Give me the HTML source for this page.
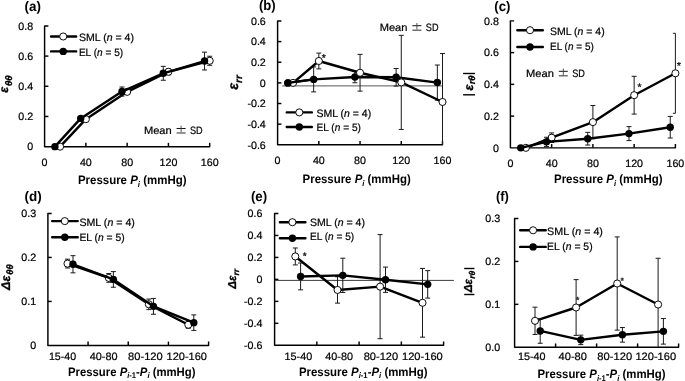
<!DOCTYPE html>
<html><head><meta charset="utf-8"><style>
html,body{margin:0;padding:0;background:#fff;overflow:hidden;}
svg{display:block;font-family:"Liberation Sans", sans-serif;will-change:transform;text-rendering:geometricPrecision;}
</style></head><body>
<svg width="685" height="381" viewBox="0 0 685 381">
<rect width="685" height="381" fill="#fff"/>
<path d="M48.4,25.9 L44.6,25.9 L44.6,146.65 L209.7,146.65 L209.7,142.85" fill="none" stroke="#000" stroke-width="1.45" stroke-linejoin="round"/>
<line x1="44.6" y1="116.46" x2="48.4" y2="116.46" stroke="#000" stroke-width="1.45"/>
<line x1="44.6" y1="86.28" x2="48.4" y2="86.28" stroke="#000" stroke-width="1.45"/>
<line x1="44.6" y1="56.09" x2="48.4" y2="56.09" stroke="#000" stroke-width="1.45"/>
<line x1="85.88" y1="146.65" x2="85.88" y2="142.85" stroke="#000" stroke-width="1.45"/>
<line x1="127.15" y1="146.65" x2="127.15" y2="142.85" stroke="#000" stroke-width="1.45"/>
<line x1="168.43" y1="146.65" x2="168.43" y2="142.85" stroke="#000" stroke-width="1.45"/>
<text x="33.1" y="150.4" font-size="10.7" text-anchor="end" fill="#000" stroke="#000" stroke-width="0.22">0</text>
<text x="33.1" y="120.21" font-size="10.7" text-anchor="end" fill="#000" stroke="#000" stroke-width="0.22">0.2</text>
<text x="33.1" y="90.03" font-size="10.7" text-anchor="end" fill="#000" stroke="#000" stroke-width="0.22">0.4</text>
<text x="33.1" y="59.84" font-size="10.7" text-anchor="end" fill="#000" stroke="#000" stroke-width="0.22">0.6</text>
<text x="33.1" y="29.65" font-size="10.7" text-anchor="end" fill="#000" stroke="#000" stroke-width="0.22">0.8</text>
<text x="44.6" y="166.4" font-size="10.7" text-anchor="middle" fill="#000" stroke="#000" stroke-width="0.22">0</text>
<text x="85.88" y="166.4" font-size="10.7" text-anchor="middle" fill="#000" stroke="#000" stroke-width="0.22">40</text>
<text x="127.15" y="166.4" font-size="10.7" text-anchor="middle" fill="#000" stroke="#000" stroke-width="0.22">80</text>
<text x="168.43" y="166.4" font-size="10.7" text-anchor="middle" fill="#000" stroke="#000" stroke-width="0.22">120</text>
<text x="209.7" y="166.4" font-size="10.7" text-anchor="middle" fill="#000" stroke="#000" stroke-width="0.22">160</text>
<polyline points="60.08,146.65 85.88,119.18 127.15,91.86 168.43,71.79 209.7,60.77" fill="none" stroke="#000" stroke-width="2.4" stroke-linejoin="round"/>
<line x1="85.88" y1="117.97" x2="85.88" y2="120.39" stroke="#1a1a1a" stroke-width="1.0"/>
<line x1="83.38" y1="117.97" x2="88.38" y2="117.97" stroke="#1a1a1a" stroke-width="1.0"/>
<line x1="83.38" y1="120.39" x2="88.38" y2="120.39" stroke="#1a1a1a" stroke-width="1.0"/>
<line x1="127.15" y1="89.6" x2="127.15" y2="94.12" stroke="#1a1a1a" stroke-width="1.0"/>
<line x1="124.65" y1="89.6" x2="129.65" y2="89.6" stroke="#1a1a1a" stroke-width="1.0"/>
<line x1="124.65" y1="94.12" x2="129.65" y2="94.12" stroke="#1a1a1a" stroke-width="1.0"/>
<line x1="168.43" y1="68.77" x2="168.43" y2="74.8" stroke="#1a1a1a" stroke-width="1.0"/>
<line x1="165.93" y1="68.77" x2="170.93" y2="68.77" stroke="#1a1a1a" stroke-width="1.0"/>
<line x1="165.93" y1="74.8" x2="170.93" y2="74.8" stroke="#1a1a1a" stroke-width="1.0"/>
<line x1="209.7" y1="56.24" x2="209.7" y2="65.29" stroke="#1a1a1a" stroke-width="1.0"/>
<line x1="207.2" y1="56.24" x2="212.2" y2="56.24" stroke="#1a1a1a" stroke-width="1.0"/>
<line x1="207.2" y1="65.29" x2="212.2" y2="65.29" stroke="#1a1a1a" stroke-width="1.0"/>
<circle cx="60.08" cy="146.65" r="3.55" fill="#fff" stroke="#000" stroke-width="0.95"/>
<circle cx="85.88" cy="119.18" r="3.55" fill="#fff" stroke="#000" stroke-width="0.95"/>
<circle cx="127.15" cy="91.86" r="3.55" fill="#fff" stroke="#000" stroke-width="0.95"/>
<circle cx="168.43" cy="71.79" r="3.55" fill="#fff" stroke="#000" stroke-width="0.95"/>
<circle cx="209.7" cy="60.77" r="3.55" fill="#fff" stroke="#000" stroke-width="0.95"/>
<polyline points="54.92,146.65 80.72,118.42 121.99,91.56 163.27,73.29 204.54,61.07" fill="none" stroke="#000" stroke-width="2.4" stroke-linejoin="round"/>
<line x1="80.72" y1="117.22" x2="80.72" y2="119.63" stroke="#1a1a1a" stroke-width="1.0"/>
<line x1="78.22" y1="117.22" x2="83.22" y2="117.22" stroke="#1a1a1a" stroke-width="1.0"/>
<line x1="78.22" y1="119.63" x2="83.22" y2="119.63" stroke="#1a1a1a" stroke-width="1.0"/>
<line x1="121.99" y1="87.03" x2="121.99" y2="96.09" stroke="#1a1a1a" stroke-width="1.0"/>
<line x1="119.49" y1="87.03" x2="124.49" y2="87.03" stroke="#1a1a1a" stroke-width="1.0"/>
<line x1="119.49" y1="96.09" x2="124.49" y2="96.09" stroke="#1a1a1a" stroke-width="1.0"/>
<line x1="163.27" y1="66.35" x2="163.27" y2="80.24" stroke="#1a1a1a" stroke-width="1.0"/>
<line x1="160.77" y1="66.35" x2="165.77" y2="66.35" stroke="#1a1a1a" stroke-width="1.0"/>
<line x1="160.77" y1="80.24" x2="165.77" y2="80.24" stroke="#1a1a1a" stroke-width="1.0"/>
<line x1="204.54" y1="52.16" x2="204.54" y2="69.97" stroke="#1a1a1a" stroke-width="1.0"/>
<line x1="202.04" y1="52.16" x2="207.04" y2="52.16" stroke="#1a1a1a" stroke-width="1.0"/>
<line x1="202.04" y1="69.97" x2="207.04" y2="69.97" stroke="#1a1a1a" stroke-width="1.0"/>
<circle cx="54.92" cy="146.65" r="3.7" fill="#000"/>
<circle cx="80.72" cy="118.42" r="3.7" fill="#000"/>
<circle cx="121.99" cy="91.56" r="3.7" fill="#000"/>
<circle cx="163.27" cy="73.29" r="3.7" fill="#000"/>
<circle cx="204.54" cy="61.07" r="3.7" fill="#000"/>
<path d="M51.06,36.5H76.14M51.06,51.4H76.14" stroke="#000" stroke-width="2.4" stroke-linecap="round" fill="none"/>
<circle cx="63.2" cy="36.5" r="3.55" fill="#fff" stroke="#000" stroke-width="0.95"/>
<circle cx="63.2" cy="51.4" r="3.7" fill="#000"/>
<text x="78.9" y="41" font-size="10.7" textLength="55.1" lengthAdjust="spacingAndGlyphs" fill="#000" stroke="#000" stroke-width="0.22">SML (<tspan font-style="italic">n</tspan> = 4)</text>
<text x="78.9" y="56" font-size="10.7" textLength="44.2" lengthAdjust="spacingAndGlyphs" fill="#000" stroke="#000" stroke-width="0.22">EL (<tspan font-style="italic">n</tspan> = 5)</text>
<text x="143.9" y="133.8" font-size="10.7" textLength="27.8" lengthAdjust="spacingAndGlyphs" fill="#000" stroke="#000" stroke-width="0.22">Mean</text>
<line x1="176.6" y1="128.5" x2="185.6" y2="128.5" stroke="#111" stroke-width="1.0"/>
<line x1="181.1" y1="125.7" x2="181.1" y2="132.2" stroke="#444" stroke-width="0.9"/>
<line x1="176.6" y1="133" x2="185.6" y2="133" stroke="#444" stroke-width="1.15"/>
<text x="190" y="133.8" font-size="10.7" textLength="12.7" lengthAdjust="spacingAndGlyphs" fill="#000" stroke="#000" stroke-width="0.22">SD</text>
<text x="24.6" y="10.8" font-size="13.8" font-weight="bold" textLength="16.4" lengthAdjust="spacingAndGlyphs" fill="#000">(a)</text>
<text x="77.9" y="183.9" font-size="12.2" font-weight="bold" textLength="108.6" lengthAdjust="spacingAndGlyphs" fill="#000">Pressure <tspan font-style="italic">P</tspan><tspan font-style="italic" font-size="8.2" dy="2.6">i</tspan><tspan dy="-2.6"> (mmHg)</tspan></text>
<text transform="translate(8.4,92.8) rotate(-90)" font-size="12.3" font-weight="bold" font-style="italic" fill="#000" stroke="#000" stroke-width="0.3">ε<tspan font-size="9.6" dx="0.9" dy="3.4">θθ</tspan></text>
<path d="M281.4,20.95 L277.6,20.95 L277.6,144.8 L442.5,144.8 L442.5,141" fill="none" stroke="#000" stroke-width="1.45" stroke-linejoin="round"/>
<line x1="277.6" y1="124.16" x2="281.4" y2="124.16" stroke="#000" stroke-width="1.45"/>
<line x1="277.6" y1="103.52" x2="281.4" y2="103.52" stroke="#000" stroke-width="1.45"/>
<line x1="277.6" y1="82.88" x2="281.4" y2="82.88" stroke="#000" stroke-width="1.45"/>
<line x1="277.6" y1="62.23" x2="281.4" y2="62.23" stroke="#000" stroke-width="1.45"/>
<line x1="277.6" y1="41.59" x2="281.4" y2="41.59" stroke="#000" stroke-width="1.45"/>
<line x1="318.83" y1="144.8" x2="318.83" y2="141" stroke="#000" stroke-width="1.45"/>
<line x1="360.05" y1="144.8" x2="360.05" y2="141" stroke="#000" stroke-width="1.45"/>
<line x1="401.27" y1="144.8" x2="401.27" y2="141" stroke="#000" stroke-width="1.45"/>
<line x1="282.2" y1="85.9" x2="442.8" y2="85.9" stroke="#444" stroke-width="0.9"/>
<text x="265.8" y="148.55" font-size="10.7" text-anchor="end" fill="#000" stroke="#000" stroke-width="0.22">-0.6</text>
<text x="265.8" y="127.91" font-size="10.7" text-anchor="end" fill="#000" stroke="#000" stroke-width="0.22">-0.4</text>
<text x="265.8" y="107.27" font-size="10.7" text-anchor="end" fill="#000" stroke="#000" stroke-width="0.22">-0.2</text>
<text x="265.8" y="86.62" font-size="10.7" text-anchor="end" fill="#000" stroke="#000" stroke-width="0.22">0</text>
<text x="265.8" y="65.98" font-size="10.7" text-anchor="end" fill="#000" stroke="#000" stroke-width="0.22">0.2</text>
<text x="265.8" y="45.34" font-size="10.7" text-anchor="end" fill="#000" stroke="#000" stroke-width="0.22">0.4</text>
<text x="265.8" y="24.7" font-size="10.7" text-anchor="end" fill="#000" stroke="#000" stroke-width="0.22">0.6</text>
<text x="277.6" y="164.4" font-size="10.7" text-anchor="middle" fill="#000" stroke="#000" stroke-width="0.22">0</text>
<text x="318.83" y="164.4" font-size="10.7" text-anchor="middle" fill="#000" stroke="#000" stroke-width="0.22">40</text>
<text x="360.05" y="164.4" font-size="10.7" text-anchor="middle" fill="#000" stroke="#000" stroke-width="0.22">80</text>
<text x="401.27" y="164.4" font-size="10.7" text-anchor="middle" fill="#000" stroke="#000" stroke-width="0.22">120</text>
<text x="442.5" y="164.4" font-size="10.7" text-anchor="middle" fill="#000" stroke="#000" stroke-width="0.22">160</text>
<polyline points="287.91,82.88 313.67,79.4 354.9,76.99 396.12,77.3 437.35,82.57" fill="none" stroke="#000" stroke-width="2.4" stroke-linejoin="round"/>
<line x1="313.67" y1="66.91" x2="313.67" y2="91.89" stroke="#1a1a1a" stroke-width="1.0"/>
<line x1="311.17" y1="66.91" x2="316.17" y2="66.91" stroke="#1a1a1a" stroke-width="1.0"/>
<line x1="311.17" y1="91.89" x2="316.17" y2="91.89" stroke="#1a1a1a" stroke-width="1.0"/>
<line x1="354.9" y1="71.21" x2="354.9" y2="82.77" stroke="#1a1a1a" stroke-width="1.0"/>
<line x1="352.4" y1="71.21" x2="357.4" y2="71.21" stroke="#1a1a1a" stroke-width="1.0"/>
<line x1="352.4" y1="82.77" x2="357.4" y2="82.77" stroke="#1a1a1a" stroke-width="1.0"/>
<line x1="396.12" y1="68.53" x2="396.12" y2="86.07" stroke="#1a1a1a" stroke-width="1.0"/>
<line x1="393.62" y1="68.53" x2="398.62" y2="68.53" stroke="#1a1a1a" stroke-width="1.0"/>
<line x1="393.62" y1="86.07" x2="398.62" y2="86.07" stroke="#1a1a1a" stroke-width="1.0"/>
<line x1="437.35" y1="65.02" x2="437.35" y2="100.11" stroke="#1a1a1a" stroke-width="1.0"/>
<line x1="434.85" y1="65.02" x2="439.85" y2="65.02" stroke="#1a1a1a" stroke-width="1.0"/>
<line x1="434.85" y1="100.11" x2="439.85" y2="100.11" stroke="#1a1a1a" stroke-width="1.0"/>
<circle cx="287.91" cy="82.88" r="3.7" fill="#000"/>
<circle cx="313.67" cy="79.4" r="3.7" fill="#000"/>
<circle cx="354.9" cy="76.99" r="3.7" fill="#000"/>
<circle cx="396.12" cy="77.3" r="3.7" fill="#000"/>
<circle cx="437.35" cy="82.57" r="3.7" fill="#000"/>
<polyline points="293.06,82.88 318.83,60.99 360.05,72.76 401.27,82.4 442.5,101.97" fill="none" stroke="#000" stroke-width="2.4" stroke-linejoin="round"/>
<line x1="318.83" y1="53.1" x2="318.83" y2="68.89" stroke="#1a1a1a" stroke-width="1.0"/>
<line x1="316.33" y1="53.1" x2="321.33" y2="53.1" stroke="#1a1a1a" stroke-width="1.0"/>
<line x1="316.33" y1="68.89" x2="321.33" y2="68.89" stroke="#1a1a1a" stroke-width="1.0"/>
<line x1="360.05" y1="54.39" x2="360.05" y2="91.13" stroke="#1a1a1a" stroke-width="1.0"/>
<line x1="357.55" y1="54.39" x2="362.55" y2="54.39" stroke="#1a1a1a" stroke-width="1.0"/>
<line x1="357.55" y1="91.13" x2="362.55" y2="91.13" stroke="#1a1a1a" stroke-width="1.0"/>
<line x1="401.27" y1="35.34" x2="401.27" y2="129.46" stroke="#1a1a1a" stroke-width="1.0"/>
<line x1="398.77" y1="35.34" x2="403.77" y2="35.34" stroke="#1a1a1a" stroke-width="1.0"/>
<line x1="398.77" y1="129.46" x2="403.77" y2="129.46" stroke="#1a1a1a" stroke-width="1.0"/>
<line x1="442.5" y1="53.56" x2="442.5" y2="144.8" stroke="#1a1a1a" stroke-width="1.0"/>
<line x1="440" y1="53.56" x2="445" y2="53.56" stroke="#1a1a1a" stroke-width="1.0"/>
<circle cx="293.06" cy="82.88" r="3.55" fill="#fff" stroke="#000" stroke-width="0.95"/>
<circle cx="318.83" cy="60.99" r="3.55" fill="#fff" stroke="#000" stroke-width="0.95"/>
<circle cx="360.05" cy="72.76" r="3.55" fill="#fff" stroke="#000" stroke-width="0.95"/>
<circle cx="401.27" cy="82.4" r="3.55" fill="#fff" stroke="#000" stroke-width="0.95"/>
<circle cx="442.5" cy="101.97" r="3.55" fill="#fff" stroke="#000" stroke-width="0.95"/>
<polyline points="287.91,82.88 313.67,79.4" fill="none" stroke="#000" stroke-width="2.4" stroke-linejoin="round"/>
<circle cx="287.91" cy="82.88" r="3.7" fill="#000"/>
<path d="M286.76,112.4H311.84M286.76,127H311.84" stroke="#000" stroke-width="2.4" stroke-linecap="round" fill="none"/>
<circle cx="299.3" cy="112.4" r="3.55" fill="#fff" stroke="#000" stroke-width="0.95"/>
<circle cx="299.3" cy="127" r="3.7" fill="#000"/>
<text x="316.5" y="117" font-size="10.7" textLength="54.7" lengthAdjust="spacingAndGlyphs" fill="#000" stroke="#000" stroke-width="0.22">SML (<tspan font-style="italic">n</tspan> = 4)</text>
<text x="316.5" y="131" font-size="10.7" textLength="44.5" lengthAdjust="spacingAndGlyphs" fill="#000" stroke="#000" stroke-width="0.22">EL (<tspan font-style="italic">n</tspan> = 5)</text>
<text x="379.7" y="31" font-size="10.7" textLength="27.8" lengthAdjust="spacingAndGlyphs" fill="#000" stroke="#000" stroke-width="0.22">Mean</text>
<line x1="412.4" y1="25.7" x2="421.4" y2="25.7" stroke="#111" stroke-width="1.0"/>
<line x1="416.9" y1="22.9" x2="416.9" y2="29.4" stroke="#444" stroke-width="0.9"/>
<line x1="412.4" y1="30.2" x2="421.4" y2="30.2" stroke="#444" stroke-width="1.15"/>
<text x="425.8" y="31" font-size="10.7" textLength="12.7" lengthAdjust="spacingAndGlyphs" fill="#000" stroke="#000" stroke-width="0.22">SD</text>
<text x="258.9" y="9.6" font-size="13.8" font-weight="bold" textLength="16.8" lengthAdjust="spacingAndGlyphs" fill="#000">(b)</text>
<text x="302.6" y="182.9" font-size="12.2" font-weight="bold" textLength="108.1" lengthAdjust="spacingAndGlyphs" fill="#000">Pressure <tspan font-style="italic">P</tspan><tspan font-style="italic" font-size="8.2" dy="2.6">i</tspan><tspan dy="-2.6"> (mmHg)</tspan></text>
<text transform="translate(237.9,89.8) rotate(-90)" font-size="14.2" font-weight="bold" font-style="italic" fill="#000" stroke="#000" stroke-width="0.3">ε<tspan font-size="10" dy="3.9">rr</tspan></text>
<path d="M323.8,56.1 L323.8,54 M323.8,56.1 L325.8,55.45 M323.8,56.1 L325.03,57.8 M323.8,56.1 L322.57,57.8 M323.8,56.1 L321.8,55.45 " stroke="#222" stroke-width="1.05" stroke-linecap="butt" fill="none"/>
<path d="M514.2,20.85 L510.4,20.85 L510.4,147.85 L675.4,147.85 L675.4,144.05" fill="none" stroke="#000" stroke-width="1.45" stroke-linejoin="round"/>
<line x1="510.4" y1="116.1" x2="514.2" y2="116.1" stroke="#000" stroke-width="1.45"/>
<line x1="510.4" y1="84.35" x2="514.2" y2="84.35" stroke="#000" stroke-width="1.45"/>
<line x1="510.4" y1="52.6" x2="514.2" y2="52.6" stroke="#000" stroke-width="1.45"/>
<line x1="551.65" y1="147.85" x2="551.65" y2="144.05" stroke="#000" stroke-width="1.45"/>
<line x1="592.9" y1="147.85" x2="592.9" y2="144.05" stroke="#000" stroke-width="1.45"/>
<line x1="634.15" y1="147.85" x2="634.15" y2="144.05" stroke="#000" stroke-width="1.45"/>
<text x="498.9" y="151.6" font-size="10.7" text-anchor="end" fill="#000" stroke="#000" stroke-width="0.22">0</text>
<text x="498.9" y="119.85" font-size="10.7" text-anchor="end" fill="#000" stroke="#000" stroke-width="0.22">0.2</text>
<text x="498.9" y="88.1" font-size="10.7" text-anchor="end" fill="#000" stroke="#000" stroke-width="0.22">0.4</text>
<text x="498.9" y="56.35" font-size="10.7" text-anchor="end" fill="#000" stroke="#000" stroke-width="0.22">0.6</text>
<text x="498.9" y="24.6" font-size="10.7" text-anchor="end" fill="#000" stroke="#000" stroke-width="0.22">0.8</text>
<text x="510.4" y="167.4" font-size="10.7" text-anchor="middle" fill="#000" stroke="#000" stroke-width="0.22">0</text>
<text x="551.65" y="167.4" font-size="10.7" text-anchor="middle" fill="#000" stroke="#000" stroke-width="0.22">40</text>
<text x="592.9" y="167.4" font-size="10.7" text-anchor="middle" fill="#000" stroke="#000" stroke-width="0.22">80</text>
<text x="634.15" y="167.4" font-size="10.7" text-anchor="middle" fill="#000" stroke="#000" stroke-width="0.22">120</text>
<text x="675.4" y="167.4" font-size="10.7" text-anchor="middle" fill="#000" stroke="#000" stroke-width="0.22">160</text>
<polyline points="525.87,147.85 551.65,137.69 592.9,122.13 634.15,95.19 675.4,73.3" fill="none" stroke="#000" stroke-width="2.4" stroke-linejoin="round"/>
<line x1="551.65" y1="132.93" x2="551.65" y2="142.45" stroke="#1a1a1a" stroke-width="1.0"/>
<line x1="549.15" y1="132.93" x2="554.15" y2="132.93" stroke="#1a1a1a" stroke-width="1.0"/>
<line x1="549.15" y1="142.45" x2="554.15" y2="142.45" stroke="#1a1a1a" stroke-width="1.0"/>
<line x1="592.9" y1="105.53" x2="592.9" y2="138.74" stroke="#1a1a1a" stroke-width="1.0"/>
<line x1="590.4" y1="105.53" x2="595.4" y2="105.53" stroke="#1a1a1a" stroke-width="1.0"/>
<line x1="590.4" y1="138.74" x2="595.4" y2="138.74" stroke="#1a1a1a" stroke-width="1.0"/>
<line x1="634.15" y1="76.3" x2="634.15" y2="114.08" stroke="#1a1a1a" stroke-width="1.0"/>
<line x1="631.65" y1="76.3" x2="636.65" y2="76.3" stroke="#1a1a1a" stroke-width="1.0"/>
<line x1="631.65" y1="114.08" x2="636.65" y2="114.08" stroke="#1a1a1a" stroke-width="1.0"/>
<line x1="675.4" y1="33.3" x2="675.4" y2="113.31" stroke="#1a1a1a" stroke-width="1.0"/>
<line x1="672.9" y1="33.3" x2="675.4" y2="33.3" stroke="#1a1a1a" stroke-width="1.0"/>
<line x1="672.9" y1="113.31" x2="675.4" y2="113.31" stroke="#1a1a1a" stroke-width="1.0"/>
<circle cx="525.87" cy="147.85" r="3.55" fill="#fff" stroke="#000" stroke-width="0.95"/>
<circle cx="551.65" cy="137.69" r="3.55" fill="#fff" stroke="#000" stroke-width="0.95"/>
<circle cx="592.9" cy="122.13" r="3.55" fill="#fff" stroke="#000" stroke-width="0.95"/>
<circle cx="634.15" cy="95.19" r="3.55" fill="#fff" stroke="#000" stroke-width="0.95"/>
<circle cx="675.4" cy="73.3" r="3.55" fill="#fff" stroke="#000" stroke-width="0.95"/>
<polyline points="520.71,147.85 546.49,141.85 587.74,138.71 628.99,133.59 670.24,127.21" fill="none" stroke="#000" stroke-width="2.4" stroke-linejoin="round"/>
<line x1="546.49" y1="137.25" x2="546.49" y2="146.45" stroke="#1a1a1a" stroke-width="1.0"/>
<line x1="543.99" y1="137.25" x2="548.99" y2="137.25" stroke="#1a1a1a" stroke-width="1.0"/>
<line x1="543.99" y1="146.45" x2="548.99" y2="146.45" stroke="#1a1a1a" stroke-width="1.0"/>
<line x1="587.74" y1="132.36" x2="587.74" y2="145.06" stroke="#1a1a1a" stroke-width="1.0"/>
<line x1="585.24" y1="132.36" x2="590.24" y2="132.36" stroke="#1a1a1a" stroke-width="1.0"/>
<line x1="585.24" y1="145.06" x2="590.24" y2="145.06" stroke="#1a1a1a" stroke-width="1.0"/>
<line x1="628.99" y1="126.61" x2="628.99" y2="140.58" stroke="#1a1a1a" stroke-width="1.0"/>
<line x1="626.49" y1="126.61" x2="631.49" y2="126.61" stroke="#1a1a1a" stroke-width="1.0"/>
<line x1="626.49" y1="140.58" x2="631.49" y2="140.58" stroke="#1a1a1a" stroke-width="1.0"/>
<line x1="670.24" y1="116.42" x2="670.24" y2="138.01" stroke="#1a1a1a" stroke-width="1.0"/>
<line x1="667.74" y1="116.42" x2="672.74" y2="116.42" stroke="#1a1a1a" stroke-width="1.0"/>
<line x1="667.74" y1="138.01" x2="672.74" y2="138.01" stroke="#1a1a1a" stroke-width="1.0"/>
<circle cx="520.71" cy="147.85" r="3.7" fill="#000"/>
<circle cx="546.49" cy="141.85" r="3.7" fill="#000"/>
<circle cx="587.74" cy="138.71" r="3.7" fill="#000"/>
<circle cx="628.99" cy="133.59" r="3.7" fill="#000"/>
<circle cx="670.24" cy="127.21" r="3.7" fill="#000"/>
<path d="M517.36,30.2H542.84M517.36,47H542.84" stroke="#000" stroke-width="2.4" stroke-linecap="round" fill="none"/>
<circle cx="530" cy="30.2" r="3.55" fill="#fff" stroke="#000" stroke-width="0.95"/>
<circle cx="530" cy="47" r="3.7" fill="#000"/>
<text x="550" y="35" font-size="10.7" textLength="54.7" lengthAdjust="spacingAndGlyphs" fill="#000" stroke="#000" stroke-width="0.22">SML (<tspan font-style="italic">n</tspan> = 4)</text>
<text x="550" y="50" font-size="10.7" textLength="43.8" lengthAdjust="spacingAndGlyphs" fill="#000" stroke="#000" stroke-width="0.22">EL (<tspan font-style="italic">n</tspan> = 5)</text>
<text x="526.1" y="76.6" font-size="10.7" textLength="27.8" lengthAdjust="spacingAndGlyphs" fill="#000" stroke="#000" stroke-width="0.22">Mean</text>
<line x1="558.8" y1="71.3" x2="567.8" y2="71.3" stroke="#111" stroke-width="1.0"/>
<line x1="563.3" y1="68.5" x2="563.3" y2="75" stroke="#444" stroke-width="0.9"/>
<line x1="558.8" y1="75.8" x2="567.8" y2="75.8" stroke="#444" stroke-width="1.15"/>
<text x="572.2" y="76.6" font-size="10.7" textLength="12.7" lengthAdjust="spacingAndGlyphs" fill="#000" stroke="#000" stroke-width="0.22">SD</text>
<text x="494.3" y="11.1" font-size="13.8" font-weight="bold" textLength="16.1" lengthAdjust="spacingAndGlyphs" fill="#000">(c)</text>
<text x="554" y="182.9" font-size="12.2" font-weight="bold" textLength="108.6" lengthAdjust="spacingAndGlyphs" fill="#000">Pressure <tspan font-style="italic">P</tspan><tspan font-style="italic" font-size="8.2" dy="2.6">i</tspan><tspan dy="-2.6"> (mmHg)</tspan></text>
<line x1="463.1" y1="94.8" x2="475" y2="94.8" stroke="#000" stroke-width="1.4"/>
<line x1="463.1" y1="73.5" x2="475" y2="73.5" stroke="#000" stroke-width="1.4"/>
<text transform="translate(472.6,90.4) rotate(-90)" font-size="12.6" font-weight="bold" font-style="italic" fill="#000" stroke="#000" stroke-width="0.3">ε<tspan font-size="9.3" dy="2.6">rθ</tspan></text>
<path d="M639.5,85.3 L639.5,83.2 M639.5,85.3 L641.5,84.65 M639.5,85.3 L640.73,87 M639.5,85.3 L638.27,87 M639.5,85.3 L637.5,84.65 " stroke="#222" stroke-width="1.05" stroke-linecap="butt" fill="none"/>
<path d="M678.9,64 L678.9,61.9 M678.9,64 L680.9,63.35 M678.9,64 L680.13,65.7 M678.9,64 L677.67,65.7 M678.9,64 L676.9,63.35 " stroke="#222" stroke-width="1.05" stroke-linecap="butt" fill="none"/>
<path d="M51.7,213.45 L47.9,213.45 L47.9,345.4 L208.6,345.4 L208.6,341.6" fill="none" stroke="#000" stroke-width="1.45" stroke-linejoin="round"/>
<line x1="47.9" y1="301.42" x2="51.7" y2="301.42" stroke="#000" stroke-width="1.45"/>
<line x1="47.9" y1="257.43" x2="51.7" y2="257.43" stroke="#000" stroke-width="1.45"/>
<line x1="88.07" y1="345.4" x2="88.07" y2="341.6" stroke="#000" stroke-width="1.45"/>
<line x1="128.25" y1="345.4" x2="128.25" y2="341.6" stroke="#000" stroke-width="1.45"/>
<line x1="168.42" y1="345.4" x2="168.42" y2="341.6" stroke="#000" stroke-width="1.45"/>
<text x="36.1" y="349.15" font-size="10.7" text-anchor="end" fill="#000" stroke="#000" stroke-width="0.22">0</text>
<text x="36.1" y="305.17" font-size="10.7" text-anchor="end" fill="#000" stroke="#000" stroke-width="0.22">0.1</text>
<text x="36.1" y="261.18" font-size="10.7" text-anchor="end" fill="#000" stroke="#000" stroke-width="0.22">0.2</text>
<text x="36.1" y="217.2" font-size="10.7" text-anchor="end" fill="#000" stroke="#000" stroke-width="0.22">0.3</text>
<text x="48.9" y="360.2" font-size="10.7" textLength="27.2" lengthAdjust="spacingAndGlyphs" fill="#000" stroke="#000" stroke-width="0.22">15-40</text>
<text x="89.7" y="360.2" font-size="10.7" textLength="27.8" lengthAdjust="spacingAndGlyphs" fill="#000" stroke="#000" stroke-width="0.22">40-80</text>
<text x="128.1" y="360.2" font-size="10.7" textLength="34.6" lengthAdjust="spacingAndGlyphs" fill="#000" stroke="#000" stroke-width="0.22">80-120</text>
<text x="166.6" y="360.2" font-size="10.7" textLength="40.4" lengthAdjust="spacingAndGlyphs" fill="#000" stroke="#000" stroke-width="0.22">120-160</text>
<polyline points="67.49,263.59 108.76,277.89 148.84,304.32 188.31,324.73" fill="none" stroke="#000" stroke-width="2.4" stroke-linejoin="round"/>
<line x1="67.49" y1="259.19" x2="67.49" y2="267.99" stroke="#1a1a1a" stroke-width="1.0"/>
<line x1="64.99" y1="259.19" x2="69.99" y2="259.19" stroke="#1a1a1a" stroke-width="1.0"/>
<line x1="64.99" y1="267.99" x2="69.99" y2="267.99" stroke="#1a1a1a" stroke-width="1.0"/>
<line x1="108.76" y1="273.49" x2="108.76" y2="282.28" stroke="#1a1a1a" stroke-width="1.0"/>
<line x1="106.26" y1="273.49" x2="111.26" y2="273.49" stroke="#1a1a1a" stroke-width="1.0"/>
<line x1="106.26" y1="282.28" x2="111.26" y2="282.28" stroke="#1a1a1a" stroke-width="1.0"/>
<line x1="148.84" y1="299.04" x2="148.84" y2="309.6" stroke="#1a1a1a" stroke-width="1.0"/>
<line x1="146.34" y1="299.04" x2="151.34" y2="299.04" stroke="#1a1a1a" stroke-width="1.0"/>
<line x1="146.34" y1="309.6" x2="151.34" y2="309.6" stroke="#1a1a1a" stroke-width="1.0"/>
<line x1="188.31" y1="321.21" x2="188.31" y2="328.25" stroke="#1a1a1a" stroke-width="1.0"/>
<line x1="185.81" y1="321.21" x2="190.81" y2="321.21" stroke="#1a1a1a" stroke-width="1.0"/>
<line x1="185.81" y1="328.25" x2="190.81" y2="328.25" stroke="#1a1a1a" stroke-width="1.0"/>
<circle cx="67.49" cy="263.59" r="3.55" fill="#fff" stroke="#000" stroke-width="0.95"/>
<circle cx="108.76" cy="277.89" r="3.55" fill="#fff" stroke="#000" stroke-width="0.95"/>
<circle cx="148.84" cy="304.32" r="3.55" fill="#fff" stroke="#000" stroke-width="0.95"/>
<circle cx="188.31" cy="324.73" r="3.55" fill="#fff" stroke="#000" stroke-width="0.95"/>
<polyline points="72.99,264.25 113.36,279.42 153.44,306.34 193.81,322.66" fill="none" stroke="#000" stroke-width="2.4" stroke-linejoin="round"/>
<line x1="72.99" y1="255.67" x2="72.99" y2="272.83" stroke="#1a1a1a" stroke-width="1.0"/>
<line x1="70.49" y1="255.67" x2="75.49" y2="255.67" stroke="#1a1a1a" stroke-width="1.0"/>
<line x1="70.49" y1="272.83" x2="75.49" y2="272.83" stroke="#1a1a1a" stroke-width="1.0"/>
<line x1="113.36" y1="271.6" x2="113.36" y2="287.25" stroke="#1a1a1a" stroke-width="1.0"/>
<line x1="110.86" y1="271.6" x2="115.86" y2="271.6" stroke="#1a1a1a" stroke-width="1.0"/>
<line x1="110.86" y1="287.25" x2="115.86" y2="287.25" stroke="#1a1a1a" stroke-width="1.0"/>
<line x1="153.44" y1="298.43" x2="153.44" y2="314.26" stroke="#1a1a1a" stroke-width="1.0"/>
<line x1="150.94" y1="298.43" x2="155.94" y2="298.43" stroke="#1a1a1a" stroke-width="1.0"/>
<line x1="150.94" y1="314.26" x2="155.94" y2="314.26" stroke="#1a1a1a" stroke-width="1.0"/>
<line x1="193.81" y1="314.92" x2="193.81" y2="330.4" stroke="#1a1a1a" stroke-width="1.0"/>
<line x1="191.31" y1="314.92" x2="196.31" y2="314.92" stroke="#1a1a1a" stroke-width="1.0"/>
<line x1="191.31" y1="330.4" x2="196.31" y2="330.4" stroke="#1a1a1a" stroke-width="1.0"/>
<circle cx="72.99" cy="264.25" r="3.7" fill="#000"/>
<circle cx="113.36" cy="279.42" r="3.7" fill="#000"/>
<circle cx="153.44" cy="306.34" r="3.7" fill="#000"/>
<circle cx="193.81" cy="322.66" r="3.7" fill="#000"/>
<path d="M52.16,221.1H77.74M52.16,237.3H77.74" stroke="#000" stroke-width="2.4" stroke-linecap="round" fill="none"/>
<circle cx="64.8" cy="221.1" r="3.55" fill="#fff" stroke="#000" stroke-width="0.95"/>
<circle cx="64.8" cy="237.3" r="3.7" fill="#000"/>
<text x="79.4" y="226" font-size="10.7" textLength="55.5" lengthAdjust="spacingAndGlyphs" fill="#000" stroke="#000" stroke-width="0.22">SML (<tspan font-style="italic">n</tspan> = 4)</text>
<text x="79.4" y="241" font-size="10.7" textLength="45.2" lengthAdjust="spacingAndGlyphs" fill="#000" stroke="#000" stroke-width="0.22">EL (<tspan font-style="italic">n</tspan> = 5)</text>
<text x="24.6" y="200.8" font-size="13.8" font-weight="bold" textLength="17.2" lengthAdjust="spacingAndGlyphs" fill="#000">(d)</text>
<text x="68" y="375.5" font-size="12.2" font-weight="bold" textLength="127.5" lengthAdjust="spacingAndGlyphs" fill="#000">Pressure <tspan font-style="italic">P</tspan><tspan font-style="italic" font-size="8.2" dy="2.6">i</tspan><tspan font-size="8.2">-1</tspan><tspan dy="-2.6">-</tspan><tspan font-style="italic">P</tspan><tspan font-style="italic" font-size="8.2" dy="2.6">i</tspan><tspan dy="-2.6"> (mmHg)</tspan></text>
<text transform="translate(10,290) rotate(-90)" font-size="12.5" font-weight="bold" font-style="italic" fill="#000" stroke="#000" stroke-width="0.3">Δε<tspan font-size="9.4" dx="0.8" dy="2.7">θθ</tspan></text>
<path d="M278.4,213.5 L274.6,213.5 L274.6,345.3 L443.6,345.3 L443.6,341.5" fill="none" stroke="#000" stroke-width="1.45" stroke-linejoin="round"/>
<line x1="274.6" y1="323.33" x2="278.4" y2="323.33" stroke="#000" stroke-width="1.45"/>
<line x1="274.6" y1="301.37" x2="278.4" y2="301.37" stroke="#000" stroke-width="1.45"/>
<line x1="274.6" y1="279.4" x2="278.4" y2="279.4" stroke="#000" stroke-width="1.45"/>
<line x1="274.6" y1="257.43" x2="278.4" y2="257.43" stroke="#000" stroke-width="1.45"/>
<line x1="274.6" y1="235.47" x2="278.4" y2="235.47" stroke="#000" stroke-width="1.45"/>
<line x1="316.85" y1="345.3" x2="316.85" y2="341.5" stroke="#000" stroke-width="1.45"/>
<line x1="359.1" y1="345.3" x2="359.1" y2="341.5" stroke="#000" stroke-width="1.45"/>
<line x1="401.35" y1="345.3" x2="401.35" y2="341.5" stroke="#000" stroke-width="1.45"/>
<line x1="274.6" y1="280.4" x2="453.9" y2="280.4" stroke="#333" stroke-width="0.95"/>
<text x="262.4" y="349.05" font-size="10.7" text-anchor="end" fill="#000" stroke="#000" stroke-width="0.22">-0.6</text>
<text x="262.4" y="327.08" font-size="10.7" text-anchor="end" fill="#000" stroke="#000" stroke-width="0.22">-0.4</text>
<text x="262.4" y="305.12" font-size="10.7" text-anchor="end" fill="#000" stroke="#000" stroke-width="0.22">-0.2</text>
<text x="262.4" y="283.15" font-size="10.7" text-anchor="end" fill="#000" stroke="#000" stroke-width="0.22">0</text>
<text x="262.4" y="261.18" font-size="10.7" text-anchor="end" fill="#000" stroke="#000" stroke-width="0.22">0.2</text>
<text x="262.4" y="239.22" font-size="10.7" text-anchor="end" fill="#000" stroke="#000" stroke-width="0.22">0.4</text>
<text x="262.4" y="217.25" font-size="10.7" text-anchor="end" fill="#000" stroke="#000" stroke-width="0.22">0.6</text>
<text x="284.6" y="360.4" font-size="10.7" textLength="27.6" lengthAdjust="spacingAndGlyphs" fill="#000" stroke="#000" stroke-width="0.22">15-40</text>
<text x="325.3" y="360.4" font-size="10.7" textLength="27.6" lengthAdjust="spacingAndGlyphs" fill="#000" stroke="#000" stroke-width="0.22">40-80</text>
<text x="363.7" y="360.4" font-size="10.7" textLength="34.4" lengthAdjust="spacingAndGlyphs" fill="#000" stroke="#000" stroke-width="0.22">80-120</text>
<text x="402" y="360.4" font-size="10.7" textLength="40.8" lengthAdjust="spacingAndGlyphs" fill="#000" stroke="#000" stroke-width="0.22">120-160</text>
<polyline points="295.3,256.44 337.5,289.94 380.1,286.65 422.5,302.79" fill="none" stroke="#000" stroke-width="2.4" stroke-linejoin="round"/>
<line x1="295.3" y1="247.99" x2="295.3" y2="264.9" stroke="#1a1a1a" stroke-width="1.0"/>
<line x1="292.8" y1="247.99" x2="297.8" y2="247.99" stroke="#1a1a1a" stroke-width="1.0"/>
<line x1="292.8" y1="264.9" x2="297.8" y2="264.9" stroke="#1a1a1a" stroke-width="1.0"/>
<line x1="337.5" y1="276.76" x2="337.5" y2="303.12" stroke="#1a1a1a" stroke-width="1.0"/>
<line x1="335" y1="276.76" x2="340" y2="276.76" stroke="#1a1a1a" stroke-width="1.0"/>
<line x1="335" y1="303.12" x2="340" y2="303.12" stroke="#1a1a1a" stroke-width="1.0"/>
<line x1="380.1" y1="234.59" x2="380.1" y2="338.71" stroke="#1a1a1a" stroke-width="1.0"/>
<line x1="377.6" y1="234.59" x2="382.6" y2="234.59" stroke="#1a1a1a" stroke-width="1.0"/>
<line x1="377.6" y1="338.71" x2="382.6" y2="338.71" stroke="#1a1a1a" stroke-width="1.0"/>
<line x1="422.5" y1="268.42" x2="422.5" y2="337.17" stroke="#1a1a1a" stroke-width="1.0"/>
<line x1="420" y1="268.42" x2="425" y2="268.42" stroke="#1a1a1a" stroke-width="1.0"/>
<line x1="420" y1="337.17" x2="425" y2="337.17" stroke="#1a1a1a" stroke-width="1.0"/>
<circle cx="295.3" cy="256.44" r="3.55" fill="#fff" stroke="#000" stroke-width="0.95"/>
<circle cx="337.5" cy="289.94" r="3.55" fill="#fff" stroke="#000" stroke-width="0.95"/>
<circle cx="380.1" cy="286.65" r="3.55" fill="#fff" stroke="#000" stroke-width="0.95"/>
<circle cx="422.5" cy="302.79" r="3.55" fill="#fff" stroke="#000" stroke-width="0.95"/>
<polyline points="300.6,276.43 342.8,275.34 385.5,279.73 427.7,284.34" fill="none" stroke="#000" stroke-width="2.4" stroke-linejoin="round"/>
<line x1="300.6" y1="263.03" x2="300.6" y2="289.83" stroke="#1a1a1a" stroke-width="1.0"/>
<line x1="298.1" y1="263.03" x2="303.1" y2="263.03" stroke="#1a1a1a" stroke-width="1.0"/>
<line x1="298.1" y1="289.83" x2="303.1" y2="289.83" stroke="#1a1a1a" stroke-width="1.0"/>
<line x1="342.8" y1="258.2" x2="342.8" y2="292.47" stroke="#1a1a1a" stroke-width="1.0"/>
<line x1="340.3" y1="258.2" x2="345.3" y2="258.2" stroke="#1a1a1a" stroke-width="1.0"/>
<line x1="340.3" y1="292.47" x2="345.3" y2="292.47" stroke="#1a1a1a" stroke-width="1.0"/>
<line x1="385.5" y1="267.1" x2="385.5" y2="292.36" stroke="#1a1a1a" stroke-width="1.0"/>
<line x1="383" y1="267.1" x2="388" y2="267.1" stroke="#1a1a1a" stroke-width="1.0"/>
<line x1="383" y1="292.36" x2="388" y2="292.36" stroke="#1a1a1a" stroke-width="1.0"/>
<line x1="427.7" y1="270.61" x2="427.7" y2="298.07" stroke="#1a1a1a" stroke-width="1.0"/>
<line x1="425.2" y1="270.61" x2="430.2" y2="270.61" stroke="#1a1a1a" stroke-width="1.0"/>
<line x1="425.2" y1="298.07" x2="430.2" y2="298.07" stroke="#1a1a1a" stroke-width="1.0"/>
<circle cx="300.6" cy="276.43" r="3.7" fill="#000"/>
<circle cx="342.8" cy="275.34" r="3.7" fill="#000"/>
<circle cx="385.5" cy="279.73" r="3.7" fill="#000"/>
<circle cx="427.7" cy="284.34" r="3.7" fill="#000"/>
<path d="M279.86,222.2H305.44M279.86,238.3H305.44" stroke="#000" stroke-width="2.4" stroke-linecap="round" fill="none"/>
<circle cx="292.4" cy="222.2" r="3.55" fill="#fff" stroke="#000" stroke-width="0.95"/>
<circle cx="292.4" cy="238.3" r="3.7" fill="#000"/>
<text x="310" y="226" font-size="10.7" textLength="55" lengthAdjust="spacingAndGlyphs" fill="#000" stroke="#000" stroke-width="0.22">SML (<tspan font-style="italic">n</tspan> = 4)</text>
<text x="310" y="240" font-size="10.7" textLength="44.1" lengthAdjust="spacingAndGlyphs" fill="#000" stroke="#000" stroke-width="0.22">EL (<tspan font-style="italic">n</tspan> = 5)</text>
<text x="250.9" y="201.1" font-size="13.8" font-weight="bold" textLength="16.3" lengthAdjust="spacingAndGlyphs" fill="#000">(e)</text>
<text x="298.9" y="375.7" font-size="12.2" font-weight="bold" textLength="128.7" lengthAdjust="spacingAndGlyphs" fill="#000">Pressure <tspan font-style="italic">P</tspan><tspan font-style="italic" font-size="8.2" dy="2.6">i</tspan><tspan font-size="8.2">-1</tspan><tspan dy="-2.6">-</tspan><tspan font-style="italic">P</tspan><tspan font-style="italic" font-size="8.2" dy="2.6">i</tspan><tspan dy="-2.6"> (mmHg)</tspan></text>
<text transform="translate(236.2,288.7) rotate(-90)" font-size="11.5" font-weight="bold" font-style="italic" fill="#000" stroke="#000" stroke-width="0.3">Δε<tspan font-size="8.3" dy="2.5">rr</tspan></text>
<path d="M304.7,254.3 L304.7,252.3 M304.7,254.3 L306.6,253.68 M304.7,254.3 L305.88,255.92 M304.7,254.3 L303.52,255.92 M304.7,254.3 L302.8,253.68 " stroke="#222" stroke-width="1.05" stroke-linecap="butt" fill="none"/>
<path d="M518.4,218.5 L514.6,218.5 L514.6,347.25 L678.6,347.25 L678.6,343.45" fill="none" stroke="#000" stroke-width="1.45" stroke-linejoin="round"/>
<line x1="514.6" y1="304.33" x2="518.4" y2="304.33" stroke="#000" stroke-width="1.45"/>
<line x1="514.6" y1="261.42" x2="518.4" y2="261.42" stroke="#000" stroke-width="1.45"/>
<line x1="555.6" y1="347.25" x2="555.6" y2="343.45" stroke="#000" stroke-width="1.45"/>
<line x1="596.6" y1="347.25" x2="596.6" y2="343.45" stroke="#000" stroke-width="1.45"/>
<line x1="637.6" y1="347.25" x2="637.6" y2="343.45" stroke="#000" stroke-width="1.45"/>
<text x="500.1" y="351" font-size="10.7" text-anchor="end" fill="#000" stroke="#000" stroke-width="0.22">0.0</text>
<text x="500.1" y="308.08" font-size="10.7" text-anchor="end" fill="#000" stroke="#000" stroke-width="0.22">0.1</text>
<text x="500.1" y="265.17" font-size="10.7" text-anchor="end" fill="#000" stroke="#000" stroke-width="0.22">0.2</text>
<text x="500.1" y="222.25" font-size="10.7" text-anchor="end" fill="#000" stroke="#000" stroke-width="0.22">0.3</text>
<text x="517.9" y="360.4" font-size="10.7" textLength="27.6" lengthAdjust="spacingAndGlyphs" fill="#000" stroke="#000" stroke-width="0.22">15-40</text>
<text x="558.6" y="360.4" font-size="10.7" textLength="28.3" lengthAdjust="spacingAndGlyphs" fill="#000" stroke="#000" stroke-width="0.22">40-80</text>
<text x="597.3" y="360.4" font-size="10.7" textLength="34.8" lengthAdjust="spacingAndGlyphs" fill="#000" stroke="#000" stroke-width="0.22">80-120</text>
<text x="635.4" y="360.4" font-size="10.7" textLength="40.7" lengthAdjust="spacingAndGlyphs" fill="#000" stroke="#000" stroke-width="0.22">120-160</text>
<polyline points="535,320.81 576.1,307.51 617.2,283.52 658.1,304.55" fill="none" stroke="#000" stroke-width="2.4" stroke-linejoin="round"/>
<line x1="535" y1="307.17" x2="535" y2="334.46" stroke="#1a1a1a" stroke-width="1.0"/>
<line x1="532.5" y1="307.17" x2="537.5" y2="307.17" stroke="#1a1a1a" stroke-width="1.0"/>
<line x1="532.5" y1="334.46" x2="537.5" y2="334.46" stroke="#1a1a1a" stroke-width="1.0"/>
<line x1="576.1" y1="279.61" x2="576.1" y2="335.4" stroke="#1a1a1a" stroke-width="1.0"/>
<line x1="573.6" y1="279.61" x2="578.6" y2="279.61" stroke="#1a1a1a" stroke-width="1.0"/>
<line x1="573.6" y1="335.4" x2="578.6" y2="335.4" stroke="#1a1a1a" stroke-width="1.0"/>
<line x1="617.2" y1="236.91" x2="617.2" y2="330.13" stroke="#1a1a1a" stroke-width="1.0"/>
<line x1="614.7" y1="236.91" x2="619.7" y2="236.91" stroke="#1a1a1a" stroke-width="1.0"/>
<line x1="614.7" y1="330.13" x2="619.7" y2="330.13" stroke="#1a1a1a" stroke-width="1.0"/>
<line x1="658.1" y1="258.28" x2="658.1" y2="347.25" stroke="#1a1a1a" stroke-width="1.0"/>
<line x1="655.6" y1="258.28" x2="660.6" y2="258.28" stroke="#1a1a1a" stroke-width="1.0"/>
<circle cx="535" cy="320.81" r="3.55" fill="#fff" stroke="#000" stroke-width="0.95"/>
<circle cx="576.1" cy="307.51" r="3.55" fill="#fff" stroke="#000" stroke-width="0.95"/>
<circle cx="617.2" cy="283.52" r="3.55" fill="#fff" stroke="#000" stroke-width="0.95"/>
<circle cx="658.1" cy="304.55" r="3.55" fill="#fff" stroke="#000" stroke-width="0.95"/>
<polyline points="540.2,330.94 580.8,339.87 622.4,334.8 663.4,331.33" fill="none" stroke="#000" stroke-width="2.4" stroke-linejoin="round"/>
<line x1="540.2" y1="318.62" x2="540.2" y2="343.26" stroke="#1a1a1a" stroke-width="1.0"/>
<line x1="537.7" y1="318.62" x2="542.7" y2="318.62" stroke="#1a1a1a" stroke-width="1.0"/>
<line x1="537.7" y1="343.26" x2="542.7" y2="343.26" stroke="#1a1a1a" stroke-width="1.0"/>
<line x1="580.8" y1="335.15" x2="580.8" y2="344.59" stroke="#1a1a1a" stroke-width="1.0"/>
<line x1="578.3" y1="335.15" x2="583.3" y2="335.15" stroke="#1a1a1a" stroke-width="1.0"/>
<line x1="578.3" y1="344.59" x2="583.3" y2="344.59" stroke="#1a1a1a" stroke-width="1.0"/>
<line x1="622.4" y1="327.47" x2="622.4" y2="342.14" stroke="#1a1a1a" stroke-width="1.0"/>
<line x1="619.9" y1="327.47" x2="624.9" y2="327.47" stroke="#1a1a1a" stroke-width="1.0"/>
<line x1="619.9" y1="342.14" x2="624.9" y2="342.14" stroke="#1a1a1a" stroke-width="1.0"/>
<line x1="663.4" y1="318.54" x2="663.4" y2="344.12" stroke="#1a1a1a" stroke-width="1.0"/>
<line x1="660.9" y1="318.54" x2="665.9" y2="318.54" stroke="#1a1a1a" stroke-width="1.0"/>
<line x1="660.9" y1="344.12" x2="665.9" y2="344.12" stroke="#1a1a1a" stroke-width="1.0"/>
<circle cx="540.2" cy="330.94" r="3.7" fill="#000"/>
<circle cx="580.8" cy="339.87" r="3.7" fill="#000"/>
<circle cx="622.4" cy="334.8" r="3.7" fill="#000"/>
<circle cx="663.4" cy="331.33" r="3.7" fill="#000"/>
<path d="M520.16,230.3H545.74M520.16,246.9H545.74" stroke="#000" stroke-width="2.4" stroke-linecap="round" fill="none"/>
<circle cx="533.1" cy="230.3" r="3.55" fill="#fff" stroke="#000" stroke-width="0.95"/>
<circle cx="533.1" cy="246.9" r="3.7" fill="#000"/>
<text x="547.1" y="235" font-size="10.7" textLength="55.8" lengthAdjust="spacingAndGlyphs" fill="#000" stroke="#000" stroke-width="0.22">SML (<tspan font-style="italic">n</tspan> = 4)</text>
<text x="547.1" y="250" font-size="10.7" textLength="45.5" lengthAdjust="spacingAndGlyphs" fill="#000" stroke="#000" stroke-width="0.22">EL (<tspan font-style="italic">n</tspan> = 5)</text>
<text x="495.9" y="200.5" font-size="13.8" font-weight="bold" textLength="13" lengthAdjust="spacingAndGlyphs" fill="#000">(f)</text>
<text x="537.4" y="377.9" font-size="12.2" font-weight="bold" textLength="128.1" lengthAdjust="spacingAndGlyphs" fill="#000">Pressure <tspan font-style="italic">P</tspan><tspan font-style="italic" font-size="8.2" dy="2.6">i</tspan><tspan font-size="8.2">-1</tspan><tspan dy="-2.6">-</tspan><tspan font-style="italic">P</tspan><tspan font-style="italic" font-size="8.2" dy="2.6">i</tspan><tspan dy="-2.6"> (mmHg)</tspan></text>
<line x1="464.2" y1="294.5" x2="474.4" y2="294.5" stroke="#000" stroke-width="1.4"/>
<line x1="464.2" y1="268.5" x2="474.4" y2="268.5" stroke="#000" stroke-width="1.4"/>
<text transform="translate(472.4,292.2) rotate(-90)" font-size="11.6" font-weight="bold" font-style="italic" fill="#000" stroke="#000" stroke-width="0.3">Δε<tspan font-size="8.6" dy="2.4">rθ</tspan></text>
<path d="M577.6,298.6 L577.6,296.8 M577.6,298.6 L579.31,298.04 M577.6,298.6 L578.66,300.06 M577.6,298.6 L576.54,300.06 M577.6,298.6 L575.89,298.04 " stroke="#333" stroke-width="1.05" stroke-linecap="butt" fill="none"/>
<path d="M622.2,279.3 L622.2,277.5 M622.2,279.3 L623.91,278.74 M622.2,279.3 L623.26,280.76 M622.2,279.3 L621.14,280.76 M622.2,279.3 L620.49,278.74 " stroke="#333" stroke-width="1.05" stroke-linecap="butt" fill="none"/>
</svg>
</body></html>
